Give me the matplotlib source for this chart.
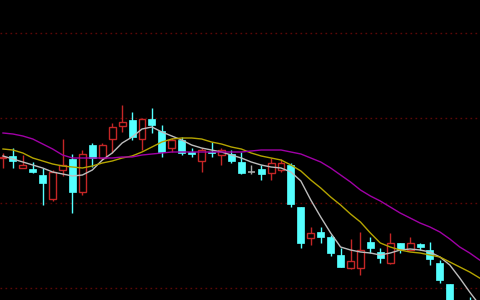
import matplotlib
matplotlib.use("Agg")
import matplotlib.pyplot as plt
import numpy as np

# candle data (price units)
opens = [14.2, 14.4, 13.2, 13.1, 12.5, 10.1, 13.0, 14.1, 10.8, 15.5,
         14.2, 16.1, 17.4, 18.0, 16.1, 18.1, 16.9, 15.2, 16.0, 14.75,
         13.9, 14.8, 14.5, 14.6, 13.8, 12.8, 13.1, 12.7, 13.0, 13.5,
         9.3, 6.2, 6.8, 6.3, 4.5, 3.2, 3.2, 5.8, 4.8, 3.7,
         5.7, 5.0, 5.6, 5.0, 3.7, 1.6, -0.5, 0.0]
closes = [14.3, 13.9, 13.5, 12.8, 11.7, 12.8, 13.5, 10.8, 14.6, 14.2,
          15.5, 17.3, 17.8, 16.3, 18.1, 17.5, 14.8, 16.0, 14.7, 14.65,
          15.0, 14.7, 15.0, 13.9, 12.7, 12.8, 12.6, 13.7, 13.7, 9.6,
          5.7, 6.7, 6.3, 4.7, 3.3, 3.9, 5.0, 5.2, 4.2, 5.7,
          5.1, 5.7, 5.3, 4.1, 2.0, -0.5, -1.5, -1.5]
highs = [14.7, 15.2, 14.5, 13.8, 13.2, 13.0, 16.1, 14.6, 15.0, 15.7,
         15.7, 17.7, 19.5, 18.8, 18.2, 19.2, 17.5, 16.2, 16.3, 15.2,
         15.2, 15.8, 15.2, 15.0, 14.8, 13.5, 13.5, 14.2, 14.1, 13.7,
         9.3, 7.3, 7.3, 6.5, 5.2, 6.1, 6.8, 6.3, 5.2, 6.7,
         5.7, 6.3, 5.7, 5.8, 4.0, 1.6, -0.2, 0.3]
lows = [13.2, 13.2, 13.2, 12.7, 9.5, 9.9, 12.4, 8.7, 10.5, 13.3,
        14.0, 14.7, 16.8, 16.0, 15.0, 16.7, 14.3, 14.8, 14.5, 14.3,
        12.8, 14.3, 13.5, 13.7, 12.6, 12.6, 12.0, 12.0, 12.8, 9.3,
        5.2, 5.5, 5.7, 4.4, 3.3, 3.1, 2.5, 4.7, 3.7, 3.6,
        4.7, 5.0, 5.0, 3.5, 1.7, -0.8, -2.0, -2.0]

# moving averages read at each candle slot (plus one at the right edge)
ma_white = [14.4, 14.1, 13.8, 13.5, 13.2, 12.8, 12.6, 12.4, 12.5, 13.0,
            14.0, 14.7, 15.7, 16.3, 17.1, 17.3, 16.8, 16.4, 16.0, 15.5,
            15.2, 15.0, 14.8, 14.5, 14.2, 13.8, 13.5, 13.3, 13.2, 12.8,
            11.9, 10.0, 8.3, 6.7, 5.3, 5.0, 4.8, 4.7, 4.5, 4.7,
            5.0, 5.1, 5.0, 4.8, 4.3, 3.5, 2.2, 0.8, -0.5]
ma_yellow = [15.1, 15.0, 14.7, 14.2, 13.9, 13.6, 13.4, 13.3, 13.2, 13.4,
             13.7, 13.9, 14.2, 14.4, 14.8, 15.3, 15.8, 16.1, 16.2, 16.2,
             16.1, 15.8, 15.6, 15.3, 15.1, 14.7, 14.4, 14.2, 14.0, 13.5,
             12.9, 12.0, 11.2, 10.3, 9.5, 8.6, 7.8, 6.7, 5.7, 5.3,
             5.0, 4.8, 4.7, 4.5, 4.3, 3.8, 3.3, 2.8, 2.2]
ma_magenta = [16.7, 16.6, 16.4, 16.1, 15.6, 15.1, 14.5, 14.2, 14.2, 14.2,
              14.2, 14.2, 14.3, 14.3, 14.5, 14.6, 14.7, 14.8, 14.8, 14.8,
              14.8, 14.8, 14.8, 14.8, 14.8, 14.9, 15.0, 15.0, 15.0, 14.8,
              14.6, 14.2, 13.8, 13.2, 12.5, 11.8, 11.0, 10.4, 9.9, 9.3,
              8.7, 8.2, 7.7, 7.3, 6.8, 6.1, 5.3, 4.7, 4.0]

grid_levels = [26.7, 18.2, 9.7, 1.2]

UP = "#c42626"
DOWN = "#54ffff"
FLAT = "#a8a8a8"

fig = plt.figure(figsize=(4.8, 3.0), dpi=100, facecolor="black")
ax = fig.add_axes([0, 0, 1, 1])
ax.set_facecolor("black")

for lv in grid_levels:
    ax.axhline(lv, color="#5e0808", lw=1, ls=(0, (1.2, 2.4)), zorder=0)

o = np.array(opens)
c = np.array(closes)
h = np.array(highs)
l = np.array(lows)
x = np.arange(len(o))

cols = [UP if cc > oo else (DOWN if cc < oo else FLAT) for oo, cc in zip(o, c)]

# wicks
ax.vlines(x, l, h, colors=cols, lw=1, zorder=1)

# bodies
bottom = np.minimum(o, c)
height = np.maximum(np.abs(c - o), 0.12)
for xi, b, hh, col in zip(x, bottom, height, cols):
    if col == UP:
        ax.bar(xi, hh, 0.7, bottom=b, facecolor="black", edgecolor=UP,
               lw=1, zorder=2)
    elif col == DOWN:
        ax.bar(xi, hh, 0.7, bottom=b, facecolor=DOWN, edgecolor=DOWN,
               lw=0.5, zorder=2)
    else:
        ax.hlines(b, xi - 0.35, xi + 0.35, colors=FLAT, lw=1.2, zorder=2)

xm = np.arange(len(ma_white))
ax.plot(xm, ma_white, color="#bdbdbd", lw=1, zorder=3)
ax.plot(xm, ma_yellow, color="#b4a400", lw=1, zorder=3)
ax.plot(xm, ma_magenta, color="#a000a6", lw=1, zorder=3)

ax.set_xlim(-0.3, 48.04)
ax.set_ylim(0, 30)
ax.axis("off")

fig.savefig("out.png", dpi=100, facecolor="black")
